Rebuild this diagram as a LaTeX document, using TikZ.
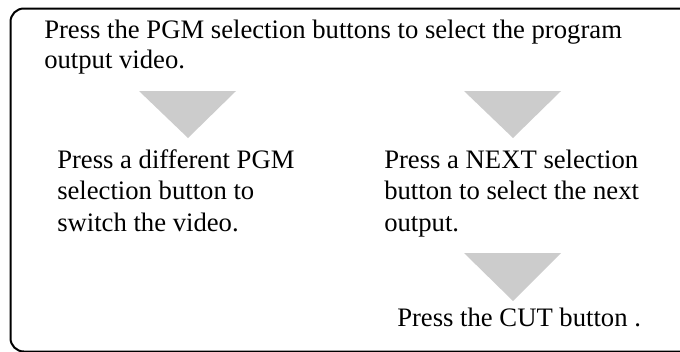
\documentclass[tikz,border=0pt]{standalone}
\usepackage{fontspec}
\setmainfont{Liberation Serif}
\definecolor{arrowgray}{RGB}{204,204,204}
\begin{document}
\begin{tikzpicture}[x=0.75pt,y=-0.75pt,
  txt/.style={anchor=base west,inner sep=0pt,align=left,font=\fontsize{20}{23.5}\selectfont},
  frame/.style={draw=black,line width=1.5pt,rounded corners=10pt},
  tri/.style={fill=arrowgray,draw=none}]
\useasboundingbox (0,0) rectangle (680,351);
\clip (0,0) rectangle (680,351);
\draw[frame] (10.5,351.5) rectangle (700,8.5);
\node[txt,font=\fontsize{20}{22.5}\selectfont] (top) at (44,68) {Press the PGM selection buttons to select the program\\output video.};
\fill[tri] (139,91) -- (236,91) -- (188,138) -- cycle;
\fill[tri] (464,91) -- (561,91) -- (513,138) -- cycle;
\node[txt] (left) at (57,231) {Press a different PGM\\selection button to\\switch the video.};
\node[txt] (right) at (384,231) {Press a NEXT selection\\button to select the next\\output.};
\fill[tri] (464,253) -- (561,253) -- (513,301) -- cycle;
\node[txt] (cut) at (397,326) {Press the CUT button .};
\end{tikzpicture}
\end{document}
